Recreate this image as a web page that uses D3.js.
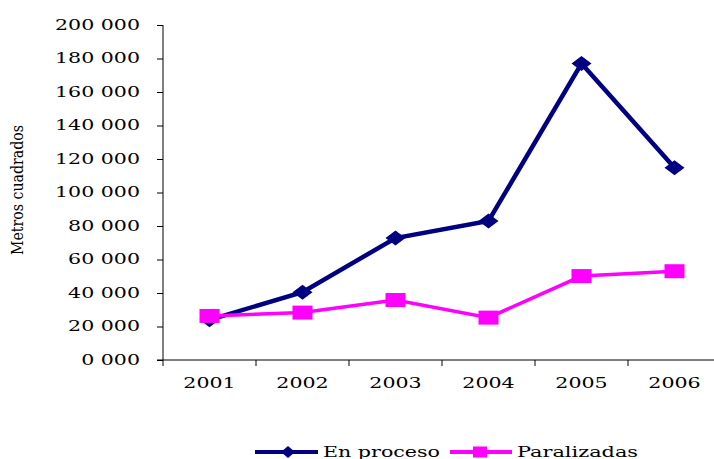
<!DOCTYPE html>
<html>
<head>
<meta charset="utf-8">
<script src="https://cdn.jsdelivr.net/npm/d3@7"></script>
<style>
  html, body { margin: 0; padding: 0; background: #fff; }
  svg { display: block; }
  text { font-family: "DejaVu Serif", "Liberation Serif", serif; fill: #000; }
</style>
</head>
<body>
<svg id="chart" width="714" height="459"></svg>
<script>
// ---- data ----
const categories = ["2001", "2002", "2003", "2004", "2005", "2006"];
const enProceso = [24000, 40500, 72800, 83000, 177000, 114800];
const paralizadas = [26300, 28300, 35800, 25300, 50100, 53000];
const seriesNames = ["En proceso", "Paralizadas"];
const yTickValues = [0, 20000, 40000, 60000, 80000, 100000, 120000, 140000, 160000, 180000, 200000];
const yTickLabels = ["0 000", "20 000", "40 000", "60 000", "80 000", "100 000", "120 000", "140 000", "160 000", "180 000", "200 000"];
const yTitle = "Metros cuadrados";

// ---- layout ----
const svg = d3.select("#chart");
const mLeft = 163, mRight = 721, mTop = 25, mBottom = 360;
const colors = ["#000080", "#FF00FF"];
const fontSize = 14;

const x = d3.scaleBand().domain(categories).range([mLeft, mRight]).padding(0);
const y = d3.scaleLinear().domain([0, 200000]).range([mBottom, mTop]);
const cx = d => x(d) + x.bandwidth() / 2;

// stretch factor so "200 000" is ~85px wide
const probe = svg.append("text").attr("font-size", fontSize).text(yTickLabels[yTickLabels.length - 1]);
const stretch = 85 / probe.node().getComputedTextLength();
probe.remove();

function stretchText(sel, k) {
  sel.each(function () {
    const len = this.getComputedTextLength();
    d3.select(this).attr("textLength", len * k).attr("lengthAdjust", "spacingAndGlyphs");
  });
}

// y axis
const yAxis = svg.append("g")
  .attr("transform", `translate(${mLeft},0)`)
  .call(d3.axisLeft(y).tickValues(yTickValues)
    .tickFormat((d, i) => yTickLabels[i]).tickSize(6).tickPadding(17));
yAxis.select(".domain").attr("stroke", "#000").attr("d", `M0,${mTop}V${mBottom}`);
yAxis.selectAll(".tick line").attr("stroke", "#000");
yAxis.selectAll("text").attr("font-size", fontSize).attr("font-family", "DejaVu Serif").call(stretchText, stretch);

// x axis
const xg = svg.append("g");
xg.append("line").attr("x1", mLeft - 6).attr("x2", 714).attr("y1", mBottom).attr("y2", mBottom).attr("stroke", "#000");
const bounds = categories.map(c => x(c)).concat([x(categories[categories.length - 1]) + x.bandwidth()]);
xg.selectAll("line.tk").data(bounds).enter().append("line")
  .attr("class", "tk")
  .attr("x1", d => d).attr("x2", d => d)
  .attr("y1", mBottom).attr("y2", mBottom + 6).attr("stroke", "#000");
xg.selectAll("text").data(categories).enter().append("text")
  .attr("x", d => cx(d)).attr("y", mBottom + 28)
  .attr("text-anchor", "middle").attr("font-size", fontSize)
  .text(d => d).call(stretchText, stretch);

// y title
svg.append("text")
  .attr("transform", "translate(23,190) rotate(-90)")
  .attr("text-anchor", "middle").attr("font-size", 17)
  .attr("font-family", "Liberation Serif")
  .attr("textLength", 130).attr("lengthAdjust", "spacingAndGlyphs")
  .text(yTitle);

// lines
const line = d3.line().x((d, i) => cx(categories[i])).y(d => y(d));
const allSeries = [enProceso, paralizadas];
const widths = [4.5, 3.5];
allSeries.forEach((s, k) => {
  svg.append("path").datum(s)
    .attr("fill", "none").attr("stroke", colors[k]).attr("stroke-width", widths[k])
    .attr("stroke-linejoin", "miter").attr("d", line);
});

function diamond(g, px, py, w, h, col) {
  g.append("path")
    .attr("d", `M${px - w / 2},${py}L${px},${py - h / 2}L${px + w / 2},${py}L${px},${py + h / 2}Z`)
    .attr("fill", col);
}
function square(g, px, py, w, h, col) {
  g.append("rect").attr("x", px - w / 2).attr("y", py - h / 2).attr("width", w).attr("height", h).attr("fill", col);
}

const mk = svg.append("g");
enProceso.forEach((v, i) => diamond(mk, cx(categories[i]), y(v), 20, 15, colors[0]));
paralizadas.forEach((v, i) => square(mk, cx(categories[i]), y(v), 20, 14, colors[1]));

// legend
const lg = svg.append("g");
const ly = 452;
lg.append("line").attr("x1", 255).attr("x2", 318).attr("y1", ly).attr("y2", ly).attr("stroke", colors[0]).attr("stroke-width", 4);
diamond(lg, 288, ly, 14, 12, colors[0]);
lg.append("text").attr("x", 323).attr("y", 457).attr("font-size", fontSize).text(seriesNames[0])
  .attr("textLength", 117).attr("lengthAdjust", "spacingAndGlyphs");
lg.append("line").attr("x1", 450).attr("x2", 512).attr("y1", ly).attr("y2", ly).attr("stroke", colors[1]).attr("stroke-width", 4);
square(lg, 480, ly, 14, 11, colors[1]);
lg.append("text").attr("x", 517).attr("y", 457).attr("font-size", fontSize).text(seriesNames[1])
  .attr("textLength", 121).attr("lengthAdjust", "spacingAndGlyphs");
</script>
</body>
</html>
